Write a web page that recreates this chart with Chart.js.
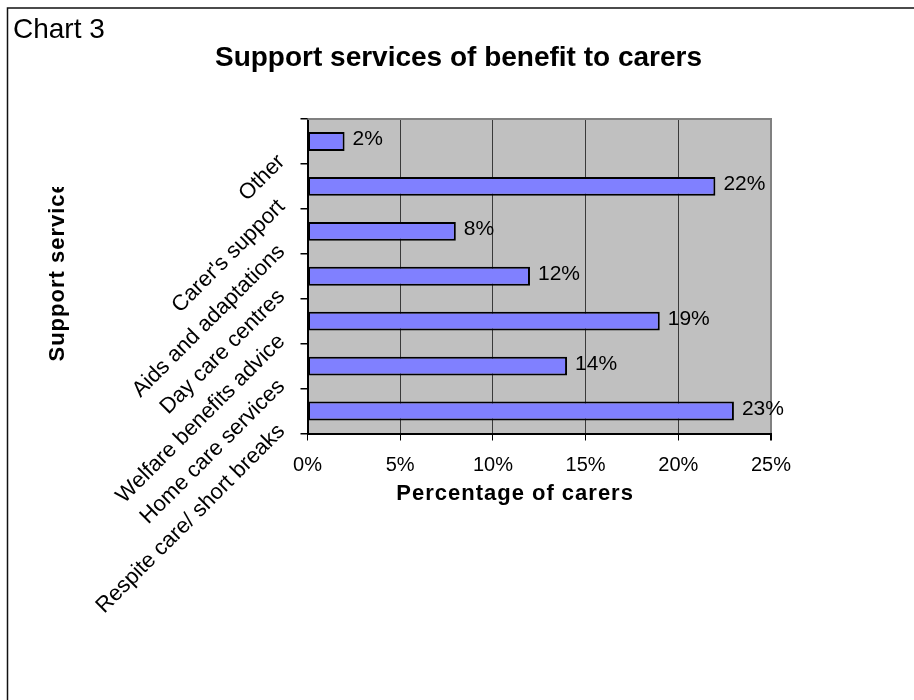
<!DOCTYPE html>
<html>
<head>
<meta charset="utf-8">
<title>Support services of benefit to carers</title>
<script src="https://cdn.jsdelivr.net/npm/chart.js@4.4.1/dist/chart.umd.min.js"></script>
<style>
  html, body { margin:0; padding:0; background:#fff; }
  canvas { display:block; }
</style>
</head>
<body>
<canvas id="chart" width="914" height="700"></canvas>
<script>
/* categories, top bar first */
const services = ["Other", "Carer's support", "Aids and adaptations", "Day care centres",
                  "Welfare benefits advice", "Home care services", "Respite care/ short breaks"];
/* percentage of carers per service */
const carerPct = [2, 22, 8, 12, 19, 14, 23];
/* x axis ticks (percent) */
const pctTicks = [0, 5, 10, 15, 20, 25];

const chartNo    = "Chart 3";
const chartTitle = "Support services of benefit to carers";
const xTitle     = "Percentage of carers";
const yTitle     = "Support services";

const FONT = "'Liberation Sans', Arial, Helvetica, sans-serif";

/* sheet frame, titles, plot background and value labels */
const sheetDecor = {
    id: "sheetDecor",
    beforeDraw (chart) {
        const ctx = chart.ctx;
        const a = chart.chartArea;
        ctx.save();
        ctx.fillStyle = "#c0c0c0";
        ctx.fillRect(a.left, a.top, a.right - a.left, a.bottom - a.top);

        // frame: left and top edge only
        ctx.strokeStyle = "#111";
        ctx.lineWidth = 1.5;
        ctx.beginPath();
        ctx.moveTo(7.5, chart.height);
        ctx.lineTo(7.5, 8);
        ctx.lineTo(chart.width, 8);
        ctx.stroke();

        ctx.fillStyle = "#000";
        ctx.textBaseline = "alphabetic";
        ctx.font = "28px " + FONT;
        ctx.textAlign = "left";
        ctx.fillText(chartNo, 13, 38);

        // main title, centred on the sheet
        ctx.font = "bold 28px " + FONT;
        ctx.textAlign = "center";
        ctx.fillText(chartTitle, 458.5, 66);
        ctx.restore();
    },
    beforeDatasetsDraw (chart) {
        // gray top edge of the plot area
        const ctx = chart.ctx;
        const a = chart.chartArea;
        ctx.save();
        ctx.strokeStyle = "#808080";
        ctx.lineWidth = 2;
        ctx.beginPath();
        ctx.moveTo(a.left, a.top);
        ctx.lineTo(a.right + 1, a.top);
        ctx.stroke();
        ctx.restore();
    },
    afterDatasetsDraw (chart) {
        const ctx = chart.ctx;
        const meta = chart.getDatasetMeta(0);
        const vals = chart.data.datasets[0].data;
        ctx.save();
        ctx.fillStyle = "#000";
        ctx.font = "21px " + FONT;
        ctx.textAlign = "left";
        ctx.textBaseline = "middle";
        meta.data.forEach((bar, i) => {
            ctx.fillText(vals[i] + "%", bar.x + 8, bar.y - 2);
        });
        ctx.restore();
    },
    afterDraw (chart) {
        const ctx = chart.ctx;
        const a = chart.chartArea;
        ctx.save();
        ctx.fillStyle = "#000";
        ctx.font = "bold 22px " + FONT;
        ctx.textBaseline = "alphabetic";
        ctx.textAlign = "left";

        // x title, a little left of the plot centre
        ctx.letterSpacing = "1px";
        ctx.fillText(xTitle, (a.left + a.right) / 2 - 143, a.bottom + 66);

        // y title, cut off at the top like the original box
        ctx.letterSpacing = "1px";
        ctx.beginPath();
        ctx.rect(0, a.top + 68, 120, a.bottom);
        ctx.clip();
        ctx.translate(63.5, a.bottom - 72);
        ctx.rotate(-Math.PI / 2);
        ctx.fillText(yTitle, 0, 0);
        ctx.restore();
    }
};

new Chart(document.getElementById("chart").getContext("2d"), {
    type: "bar",
    data: {
        labels: services,
        datasets: [{
            data: carerPct,
            backgroundColor: "#8080ff",
            borderColor: "#000",
            borderWidth: 2,
            borderSkipped: false,
            barPercentage: 0.42,
            categoryPercentage: 1
        }]
    },
    options: {
        indexAxis: "y",
        responsive: false,
        animation: false,
        layout: { padding: { top: 119, left: 80, right: 143, bottom: 226.5 } },
        plugins: {
            legend: { display: false },
            tooltip: { enabled: false },
            title: { display: false }
        },
        scales: {
            x: {
                type: "linear",
                min: 0,
                max: 25,
                afterBuildTicks: (s) => { s.ticks = pctTicks.map(v => ({ value: v })); },
                afterFit: (s) => { s.height = 40; },
                grid: {
                    color: (c) => c.index === pctTicks.length - 1 ? "#808080" : "#3a3a3a",
                    lineWidth: (c) => c.index === pctTicks.length - 1 ? 2 : 1,
                    tickColor: "#000",
                    tickLength: 7
                },
                border: { color: "#000", width: 2 },
                ticks: {
                    color: "#000",
                    font: { family: FONT, size: 20 },
                    padding: 13,
                    callback: (v) => v + "%"
                }
            },
            y: {
                afterFit: (s) => { s.width = 227.5; },
                grid: {
                    drawOnChartArea: false,
                    offset: true,
                    tickLength: 7,
                    tickColor: "#000",
                    lineWidth: 1.5
                },
                border: { color: "#000", width: 2 },
                ticks: {
                    color: "#000",
                    font: { family: FONT, size: 22 },
                    autoSkip: false,
                    minRotation: 45,
                    maxRotation: 45,
                    padding: 19,
                    labelOffset: 17
                }
            }
        }
    },
    plugins: [sheetDecor]
});
</script>
</body>
</html>
